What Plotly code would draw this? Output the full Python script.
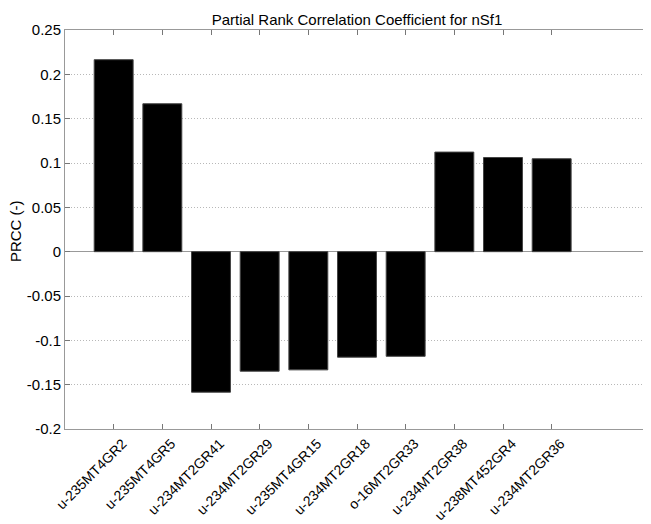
import plotly.graph_objects as go

categories = ["u-235MT4GR2", "u-235MT4GR5", "u-234MT2GR41", "u-234MT2GR29",
              "u-235MT4GR15", "u-234MT2GR18", "o-16MT2GR33", "u-234MT2GR38",
              "u-238MT452GR4", "u-234MT2GR36"]
prcc = [0.2165, 0.1668, -0.1585, -0.1348, -0.1333, -0.1190, -0.1180,
        0.1123, 0.1062, 0.1048]
positions = list(range(1, len(categories) + 1))
y_ticks = [-0.2, -0.15, -0.1, -0.05, 0, 0.05, 0.1, 0.15, 0.2, 0.25]
y_tick_labels = ["-0.2", "-0.15", "-0.1", "-0.05", "0", "0.05", "0.1", "0.15", "0.2", "0.25"]

fig = go.Figure()
fig.add_trace(go.Bar(
    x=positions, y=prcc, width=0.8,
    marker=dict(color="black", line=dict(color="#444444", width=1)),
))

family = "Liberation Sans, Arial, Helvetica, sans-serif"
font = dict(family=family, size=15, color="black")

# page body has an 8px margin; offsets compensate for it
fig.update_layout(
    width=651, height=524,
    margin=dict(l=57, r=10, t=22, b=103, autoexpand=False),
    paper_bgcolor="white", plot_bgcolor="white",
    font=font,
    showlegend=False,
    title=dict(text="Partial Rank Correlation Coefficient for nSf1",
               x=(57 + 641) / 2 / 651, xanchor="center",
               y=1 - 12 / 524, yanchor="middle",
               font=dict(size=15, color="black")),
    xaxis=dict(
        range=[0, 12], tickmode="array", tickvals=positions, ticktext=categories,
        tickangle=-45, ticks="inside", ticklen=5, tickcolor="#777777",
        showline=True, linecolor="#999999", linewidth=1, mirror="ticks",
        showgrid=False, zeroline=False, automargin=False,
        tickfont=dict(family=family, size=14, color="black"),
        ticklabelshift=9,
    ),
    yaxis=dict(
        range=[-0.2, 0.25], tickmode="array", tickvals=y_ticks, ticktext=y_tick_labels,
        ticks="inside", ticklen=5, tickcolor="#777777",
        showline=True, linecolor="#999999", linewidth=1, mirror="ticks",
        showgrid=True, gridcolor="#b8b8b8", griddash="1px,2px", gridwidth=1,
        zeroline=True, zerolinecolor="#999999", zerolinewidth=1,
        tickfont=font, automargin=False,
    ),
    annotations=[dict(
        text="PRCC (-)", textangle=-90, showarrow=False,
        xref="paper", yref="paper", x=-0.0856, y=0.496,
        xanchor="center", yanchor="middle", font=font,
    )],
)

fig.write_html("out.html")
